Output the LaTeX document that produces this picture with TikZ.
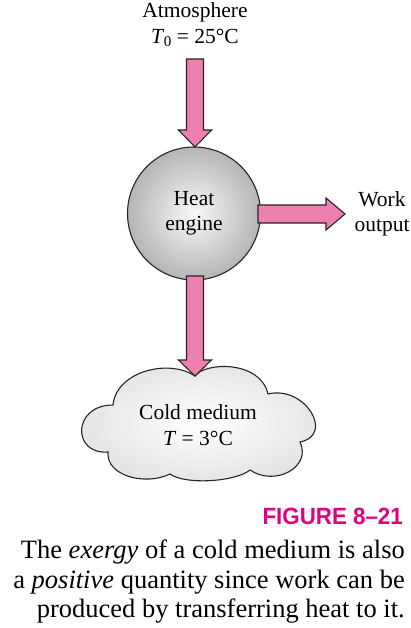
\documentclass[tikz,border=0pt]{standalone}
\usepackage{fontspec}
\setmainfont{Liberation Serif}
\newfontfamily\capfont{Liberation Sans}
\definecolor{arrowpink}{RGB}{238,128,176}
\definecolor{figpink}{RGB}{228,0,124}
\newcommand{\subzero}{\textit{T}\kern-0.5pt\raisebox{-0.35ex}{\fontsize{15}{15}\selectfont 0}}
\tikzset{
  fatstyle/.style={draw=black!85, line width=1.1pt, fill=arrowpink, line join=miter},
  pics/fatarrow/.style args={#1/#2/#3/#4}{code={
    \draw[fatstyle] (0,-#2) -- (#1-#4,-#2) -- (#1-#4,-#3) -- (#1,0) -- (#1-#4,#3)
      -- (#1-#4,#2) -- (0,#2) -- cycle;}},
  lbl/.style={font=\fontsize{21.5}{25.5}\selectfont, align=center, inner sep=0pt},
  engine/.style={circle, draw=black!85, line width=1.1pt, minimum size=133pt,
    inner sep=0pt, shading=radial, inner color=gray!5, outer color=gray!58,
    font=\fontsize{21.5}{25.5}\selectfont, align=center},
  cloudstyle/.style={draw=black!85, line width=1.1pt, shading=radial,
    inner color=white, outer color=gray!22},
  captxt/.style={font=\fontsize{26.5}{29.5}\selectfont, align=right, inner sep=0pt},
  figlbl/.style={font=\capfont\bfseries\fontsize{23.5}{26}\selectfont, text=figpink, inner sep=0pt}
}
\begin{document}
\begin{tikzpicture}[x=1pt,y=-1pt]
\useasboundingbox (0,0) rectangle (410,628);
% cloud outline
\coordinate (c1) at (113,405);
\coordinate (c2) at (195,376);
\coordinate (c3) at (268,394);
\coordinate (c4) at (300,442);
\coordinate (c5) at (250,470);
\coordinate (c6) at (170,474);
\coordinate (c7) at (108,452);
\draw[cloudstyle] (c7) .. controls (72,455) and (72,405) .. (c1)
  .. controls (116,372) and (168,358) .. (c2)
  .. controls (205,362) and (260,360) .. (c3)
  .. controls (305,385) and (335,435) .. (c4)
  .. controls (312,467) and (275,487) .. (c5)
  .. controls (235,482) and (185,485) .. (c6)
  .. controls (145,486) and (106,476) .. (c7) -- cycle;
% nodes
\node[lbl, anchor=north] (atm) at (195,2.5) {Atmosphere\\\subzero{} = 25°C};
\node[engine] (eng) at (194,213.5) {Heat\\engine};
\node[lbl] (work) at (382,214) {Work\\output};
\node[lbl] (cold) at (198,425) {Cold medium\\\textit{T} = 3°C};
% arrows
\coordinate (atop) at (195,59);
\pic[rotate=-90] at (atop) {fatarrow=88/8.5/16.5/17};
\coordinate (rstart) at (258,214);
\pic at (rstart) {fatarrow=87/9/16/19};
\coordinate (bstart) at (195,276);
\pic[rotate=-90] at (bstart) {fatarrow=100/8.5/16.5/16};
% caption
\node[figlbl, anchor=base east, xscale=0.95] (fig) at (403,524) {FIGURE 8–21};
\node[captxt, anchor=north east] (cap) at (405,540)
  {The \textit{exergy} of a cold medium is also\\
   a \textit{positive} quantity since work can be\\
   produced by transferring heat to it.};
\end{tikzpicture}
\end{document}
